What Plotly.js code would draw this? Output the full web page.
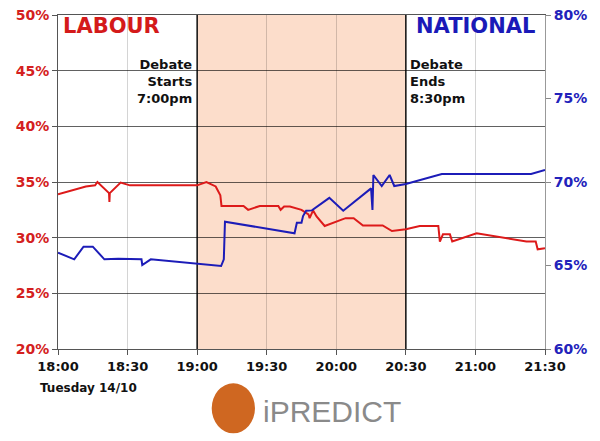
<!DOCTYPE html>
<html>
<head>
<meta charset="utf-8">
<script src="https://cdn.plot.ly/plotly-3.0.1.min.js"></script>
<style>html,body{margin:0;padding:0;background:#fff;}#chart{width:600px;height:441px;}</style>
</head>
<body>
<div id="chart"></div>
<script>
var DAY = "2008-10-14 ";

var labourTimes = ["18:00:00","18:12:00","18:16:00","18:17:00","18:22:00","18:22:10","18:22:20","18:27:00","18:31:00",
  "19:00:00","19:04:00","19:08:00","19:10:00","19:10:30","19:20:00","19:22:00","19:27:00","19:35:00","19:36:00",
  "19:37:30","19:40:00","19:45:00","19:48:00","19:48:30","19:50:00","19:51:30","19:55:00","20:04:00","20:07:30",
  "20:11:30","20:20:00","20:24:00","20:30:00","20:36:00","20:44:00","20:44:40","20:46:00","20:49:00","20:50:00",
  "21:00:30","21:22:00","21:26:00","21:26:50","21:30:00"];
var labourValues = [33.9,34.6,34.7,35.0,34.0,33.2,34.0,34.95,34.7,
  34.7,35.0,34.6,33.8,32.85,32.85,32.5,32.85,32.85,32.5,
  32.8,32.8,32.5,32.1,31.75,32.45,31.9,31.05,31.75,31.75,
  31.1,31.1,30.6,30.75,31.05,31.05,29.65,30.3,30.3,29.65,
  30.4,29.65,29.65,28.95,29.05];

var nationalTimes = ["18:00:00","18:07:00","18:11:00","18:15:00","18:20:00","18:26:00","18:36:00","18:36:20","18:40:00",
  "19:00:00","19:10:20","19:11:30","19:12:00","19:42:00","19:43:00","19:45:00","19:45:40","19:47:00","19:49:30",
  "19:57:00","20:03:00","20:15:00","20:15:36","20:16:00","20:19:36","20:23:00","20:25:00","20:30:00","20:45:30",
  "21:24:00","21:30:00"];
var nationalValues = [65.77,65.37,66.13,66.13,65.37,65.41,65.37,65.03,65.37,
  65.09,64.97,65.37,67.62,66.93,67.56,67.56,67.96,68.28,68.3,
  69.05,68.28,69.62,68.32,70.42,69.76,70.42,69.76,69.88,70.48,
  70.48,70.72];

var xTickLabels = ["18:00","18:30","19:00","19:30","20:00","20:30","21:00","21:30"];
var leftTicks = [20,25,30,35,40,45,50];
var rightTicks = [60,65,70,75,80];
var debateStart = "19:00";
var debateEnd = "20:30";

function t(s){ return DAY + s; }
function pct(v){ return v + "%"; }

var traces = [
  {x: labourTimes.map(t), y: labourValues, type: "scatter", mode: "lines", yaxis: "y",
   line: {color: "#dd1a1a", width: 2}, hoverinfo: "skip"},
  {x: nationalTimes.map(t), y: nationalValues, type: "scatter", mode: "lines", yaxis: "y2",
   line: {color: "#1c1cb8", width: 2}, hoverinfo: "skip"}
];

var boldFont = "DejaVu Sans, Verdana, sans-serif";

var layout = {
  width: 600, height: 441,
  margin: {l: 58, r: 55, t: 15, b: 92},
  paper_bgcolor: "#ffffff", plot_bgcolor: "#ffffff",
  showlegend: false,
  xaxis: {
    type: "date",
    range: [t("18:00"), t("21:30")],
    tickvals: xTickLabels.map(t), ticktext: xTickLabels,
    showgrid: true, gridcolor: "rgba(0,0,0,0.17)", gridwidth: 1,
    showline: true, mirror: true, linecolor: "#555", linewidth: 1,
    ticks: "outside", ticklen: 5, tickcolor: "#555",
    tickfont: {family: boldFont, size: 13, color: "#111", weight: "bold"},
    zeroline: false, fixedrange: true
  },
  yaxis: {
    range: [20, 50], tickmode: "array", tickvals: leftTicks, ticktext: leftTicks.map(pct),
    showgrid: true, gridcolor: "rgba(0,0,0,0.62)", gridwidth: 1,
    showline: true, linecolor: "#555", linewidth: 1,
    ticks: "outside", ticklen: 5, tickcolor: "#555",
    tickfont: {family: boldFont, size: 14, color: "#d42020", weight: "bold"},
    zeroline: false, fixedrange: true
  },
  yaxis2: {
    range: [60, 80], tickmode: "array", tickvals: rightTicks, ticktext: rightTicks.map(pct),
    overlaying: "y", side: "right",
    showgrid: false,
    showline: true, linecolor: "#999", linewidth: 1,
    ticks: "outside", ticklen: 5, tickcolor: "#888",
    tickfont: {family: boldFont, size: 14, color: "#2222bb", weight: "bold"},
    zeroline: false, fixedrange: true
  },
  shapes: [
    {type: "rect", xref: "x", yref: "paper", x0: t(debateStart), x1: t(debateEnd), y0: 0, y1: 1,
     fillcolor: "rgb(252,221,203)", line: {width: 0}, layer: "below"},
    {type: "line", xref: "x", yref: "paper", x0: t(debateStart), x1: t(debateStart), y0: 0, y1: 1,
     line: {color: "#111", width: 1.5}, layer: "between"},
    {type: "line", xref: "x", yref: "paper", x0: t(debateEnd), x1: t(debateEnd), y0: 0, y1: 1,
     line: {color: "#111", width: 1.5}, layer: "between"},
    {type: "circle", xref: "paper", yref: "paper", x0: 0.3156, x1: 0.4045, y0: -0.2524, y1: -0.1027,
     fillcolor: "rgb(207,103,33)", line: {width: 0}}
  ],
  annotations: [
    {text: "LABOUR", xref: "x", yref: "paper", x: t("18:00"), y: 0.967, xanchor: "left", yanchor: "middle",
     xshift: 3, showarrow: false, font: {family: boldFont, size: 21, color: "#d41a1a", weight: "bold"}},
    {text: "NATIONAL", xref: "x", yref: "paper", x: t(debateEnd), y: 0.967, xanchor: "left", yanchor: "middle",
     xshift: 8, showarrow: false, font: {family: boldFont, size: 21, color: "#1a1ab8", weight: "bold"}},
    {text: "Debate<br>Starts<br>7:00pm", xref: "x", yref: "paper", x: t(debateStart), y: 0.802,
     xanchor: "right", yanchor: "middle", align: "right", xshift: -3, showarrow: false,
     font: {family: boldFont, size: 13, color: "#111", weight: "bold"}},
    {text: "Debate<br>Ends<br>8:30pm", xref: "x", yref: "paper", x: t(debateEnd), y: 0.802,
     xanchor: "left", yanchor: "middle", align: "left", xshift: 2, showarrow: false,
     font: {family: boldFont, size: 13, color: "#111", weight: "bold"}},
    {text: "Tuesday 14/10", xref: "paper", yref: "paper", x: -0.041, y: -0.117,
     xanchor: "left", yanchor: "middle", showarrow: false,
     font: {family: boldFont, size: 12, color: "#111", weight: "bold"}},
    {text: "iPREDICT", xref: "paper", yref: "paper", x: 0.417, y: -0.186,
     xanchor: "left", yanchor: "middle", showarrow: false,
     font: {family: "Liberation Sans, Arial, sans-serif", size: 30, color: "#8a8a8a"}}
  ]
};

Plotly.newPlot("chart", traces, layout, {staticPlot: true, displayModeBar: false});
</script>
</body>
</html>
